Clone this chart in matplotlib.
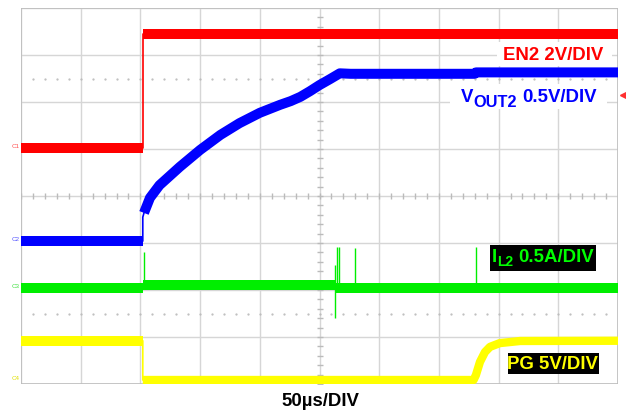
import numpy as np
import matplotlib
matplotlib.use('Agg')
import matplotlib.pyplot as plt
from matplotlib.patches import Rectangle

plt.rcParams['font.family'] = ['Liberation Sans', 'DejaVu Sans']

# scope screen: time in us (50us/div, 10 div), level in divisions (8 div)
en2_time = [0, 102, 102, 500]
en2_level = [5.02, 5.02, 7.45, 7.45]

vout_time = [0, 102, 102, 103, 108, 116, 133, 150, 167, 183, 200, 217, 226, 234, 242, 250, 259, 267, 276, 380, 381, 500]
vout_level = [3.04, 3.04, 3.55, 3.64, 3.96, 4.23, 4.62, 4.98, 5.30, 5.55, 5.77, 5.94, 6.02, 6.11, 6.23, 6.36, 6.49, 6.61, 6.60, 6.60, 6.63, 6.63]

il2_time = [0, 102, 102, 263, 263, 500]
il2_level = [2.04, 2.04, 2.11, 2.11, 2.05, 2.05]
spike_time = [103, 263, 264.7, 266.3, 279.7, 381]
spike_top = [2.81, 2.53, 2.91, 2.91, 2.89, 2.91]
spike_bottom = [2.10, 1.40, 2.10, 2.10, 2.05, 2.05]

pg_time = [0, 102, 102, 379, 381, 384.4, 388.6, 392.8, 401, 418, 500]
pg_level = [0.92, 0.92, 0.085, 0.085, 0.19, 0.47, 0.68, 0.79, 0.87, 0.915, 0.92]

W, H = 626, 418
fig = plt.figure(figsize=(W / 100, H / 100), dpi=100)
ax = fig.add_axes([21 / W, 1 - 384 / H, 597 / W, 376 / H])
ax.set_xlim(0, 500)
ax.set_ylim(0, 8)
ax.axis('off')

grid_c = '#d6d6d6'
for x in range(0, 501, 50):
    ax.axvline(x, color=grid_c, lw=1, zorder=0)
for y in range(0, 9):
    ax.axhline(y, color=grid_c, lw=1, zorder=0)
ax.add_patch(Rectangle((0, 0), 500, 8, fill=False, ec='#bdbdbd', lw=1.2, zorder=0.5))

# center line ticks and dotted cursor lines
ax.plot(np.arange(0, 500, 10), [4] * 50, ls='none', marker='|', ms=4, color='#bbbbbb', zorder=0)
ax.plot([250] * 40, np.arange(0, 8, 0.2), ls='none', marker='_', ms=4, color='#bbbbbb', zorder=0)
for y in (1.5, 6.5):
    ax.plot(np.arange(10, 500, 10), [y] * 49, ls='none', marker='.', ms=1.2, color='#bbbbbb', zorder=0)

band = 7.2
# EN2
ax.plot(en2_time, en2_level, color='#ff0000', lw=1.2, zorder=3)
ax.plot(en2_time[:2], en2_level[:2], color='#ff0000', lw=band, solid_capstyle='butt', zorder=3)
ax.plot(en2_time[2:], en2_level[2:], color='#ff0000', lw=band, solid_capstyle='butt', zorder=3)
# VOUT2
ax.plot(vout_time, vout_level, color='#0000ff', lw=1.2, zorder=3)
ax.plot(vout_time[:2], vout_level[:2], color='#0000ff', lw=band, solid_capstyle='butt', zorder=3)
ax.plot(vout_time[3:], vout_level[3:], color='#0000ff', lw=band, solid_capstyle='butt',
        solid_joinstyle='round', zorder=3)
# IL2
ax.plot(il2_time[:2], il2_level[:2], color='#00ee00', lw=band, solid_capstyle='butt', zorder=2)
ax.plot(il2_time[2:4], il2_level[2:4], color='#00ee00', lw=band, solid_capstyle='butt', zorder=2)
ax.plot(il2_time[4:], il2_level[4:], color='#00ee00', lw=band, solid_capstyle='butt', zorder=2)
ax.vlines(spike_time, spike_bottom, spike_top, color='#00ee00', lw=1, zorder=2)
# PG
ax.plot(pg_time, pg_level, color='#ffff00', lw=1.2, zorder=2)
ax.plot(pg_time[:2], pg_level[:2], color='#ffff00', lw=band, solid_capstyle='butt', zorder=2)
ax.plot(pg_time[2:], pg_level[2:], color='#ffff00', lw=6, solid_capstyle='butt', zorder=2)

# trigger marker
ax.plot([504], [6.15], marker='<', ms=4, color='#ff3030', clip_on=False, zorder=4)


def box(x0, y0, x1, y1, color):
    fig.patches.append(Rectangle((x0 / W, 1 - y1 / H), (x1 - x0) / W, (y1 - y0) / H,
                                 transform=fig.transFigure, fc=color, ec='none', zorder=1))


def label(x, y, s, color, size, ha='left'):
    fig.text(x / W, 1 - y / H, s, color=color, fontsize=size, fontweight='bold',
             ha=ha, va='baseline', zorder=3)


box(497, 42, 612, 66, 'white')
label(603, 60, 'EN2 2V/DIV', '#ff0000', 13.4, 'right')

box(450, 84, 607, 109, 'white')
label(461, 102.5, 'V', '#0000ff', 13.4)
label(473, 107, 'OUT2', '#0000ff', 11.8)
label(597, 102, '0.5V/DIV', '#0000ff', 13.4, 'right')

box(490, 245, 596, 271, 'black')
label(492, 262, 'I', '#00ff00', 13.4)
label(497.5, 266, 'L2', '#00ff00', 10)
label(594, 262, '0.5A/DIV', '#00ff00', 13.4, 'right')

box(508, 353, 599, 374, 'black')
label(598, 369, 'PG 5V/DIV', '#ffff00', 13.4, 'right')

fig.text(320 / W, 1 - 406 / H, '50\u00b5s/DIV', color='black', fontsize=13.4,
         fontweight='bold', ha='center', va='baseline')

for s, yy, c in [('C1', 146, '#ff5050'), ('C2', 239, '#5050ff'), ('C3', 286, '#40e040'), ('C4', 379, '#e0e000')]:
    fig.text(12 / W, 1 - yy / H, s, color=c, fontsize=4.5, va='center', ha='left')

fig.savefig('out.png', dpi=100)
